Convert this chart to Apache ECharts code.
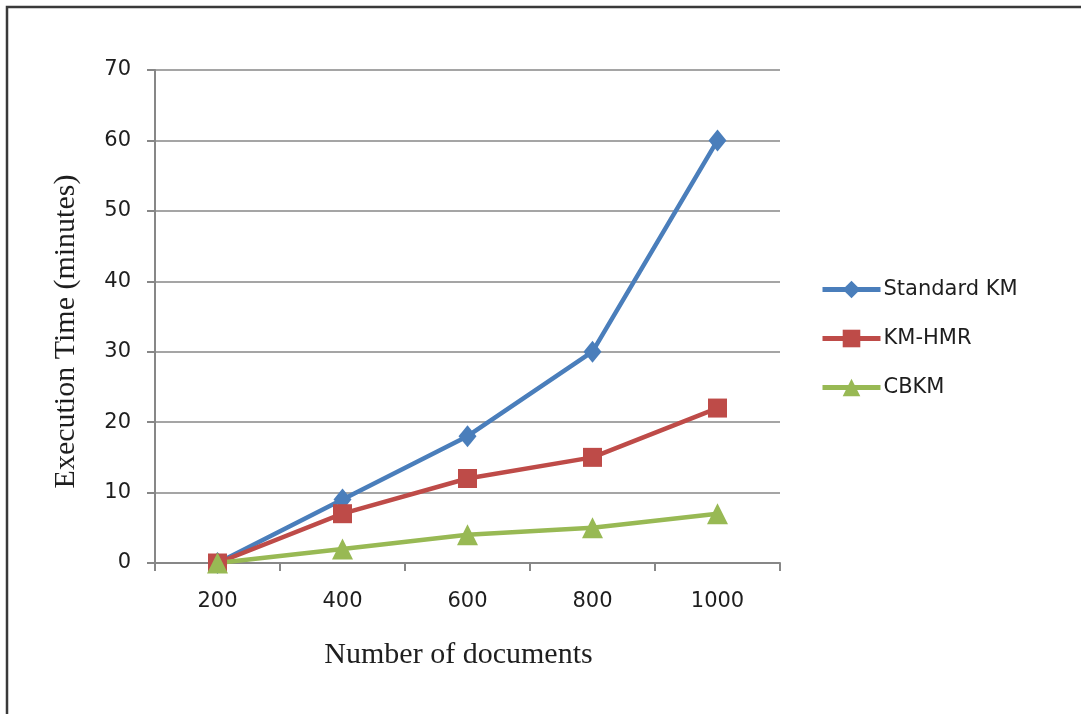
<!DOCTYPE html>
<html>
<head>
<meta charset="utf-8">
<script src="https://cdn.jsdelivr.net/npm/echarts@6/dist/echarts.min.js"></script>
<style>
  html, body { margin: 0; padding: 0; background: #ffffff; }
  #chart { width: 1081px; height: 714px; }
</style>
</head>
<body>
<div id="chart"></div>
<script>
// Execution time of three clustering methods vs. corpus size
const documents = ['200', '400', '600', '800', '1000'];
const standardKM = [0, 9, 18, 30, 60];
const kmHMR = [0, 7, 12, 15, 22];
const cbkm = [0, 2, 4, 5, 7];

const axisGray = '#878787';
const textColor = '#1e1e1e';

const chart = echarts.init(document.getElementById('chart'));

function lineSeries(name, data, color, symbol, size) {
  return {
    name: name,
    type: 'line',
    data: data,
    symbol: symbol,
    symbolSize: size,
    lineStyle: { color: color, width: 4.5 },
    itemStyle: { color: color },
    emphasis: { disabled: true },
    animation: false
  };
}

chart.setOption({
  animation: false,
  graphic: [{
    type: 'rect',
    shape: { x: 7, y: 7, width: 1090, height: 730 },
    style: { fill: 'none', stroke: '#3a3a3a', lineWidth: 2.5 },
    silent: true,
    z: 100
  }],
  grid: { left: 155, right: 301, top: 70, bottom: 151 },
  legend: {
    orient: 'vertical',
    left: 815,
    top: 274,
    itemWidth: 58,
    itemHeight: 22,
    itemGap: 28,
    lineStyle: { width: 5 },
    textStyle: { fontFamily: 'DejaVu Sans', fontSize: 21, color: textColor, padding: [0, 0, 0, -2] },
    data: ['Standard KM', 'KM-HMR', 'CBKM']
  },
  xAxis: {
    type: 'category',
    data: documents,
    boundaryGap: true,
    name: 'Number of documents',
    nameLocation: 'middle',
    nameGap: 77,
    nameTextStyle: { fontFamily: 'Liberation Serif', fontSize: 30, color: textColor, padding: [0, 18, 0, 0] },
    axisLine: { lineStyle: { color: axisGray, width: 2 } },
    axisTick: { show: true, length: 8, lineStyle: { color: axisGray, width: 2 } },
    axisLabel: { margin: 28, fontFamily: 'DejaVu Sans', fontSize: 21, color: textColor }
  },
  yAxis: {
    type: 'value',
    min: 0,
    max: 70,
    interval: 10,
    name: 'Execution Time (minutes)',
    nameLocation: 'middle',
    nameGap: 74,
    nameTextStyle: { fontFamily: 'Liberation Serif', fontSize: 30, color: textColor, padding: [0, 30, 0, 0] },
    axisLine: { show: true, lineStyle: { color: axisGray, width: 2 } },
    axisTick: { show: true, length: 8, lineStyle: { color: axisGray, width: 2 } },
    splitLine: { lineStyle: { color: axisGray, width: 1.5 } },
    axisLabel: { margin: 24, fontFamily: 'DejaVu Sans', fontSize: 21, color: textColor }
  },
  series: [
    lineSeries('Standard KM', standardKM, '#4a7ebb', 'diamond', [18, 22]),
    lineSeries('KM-HMR', kmHMR, '#be4b48', 'rect', 19),
    lineSeries('CBKM', cbkm, '#98b954', 'triangle', 21)
  ]
});
</script>
</body>
</html>
